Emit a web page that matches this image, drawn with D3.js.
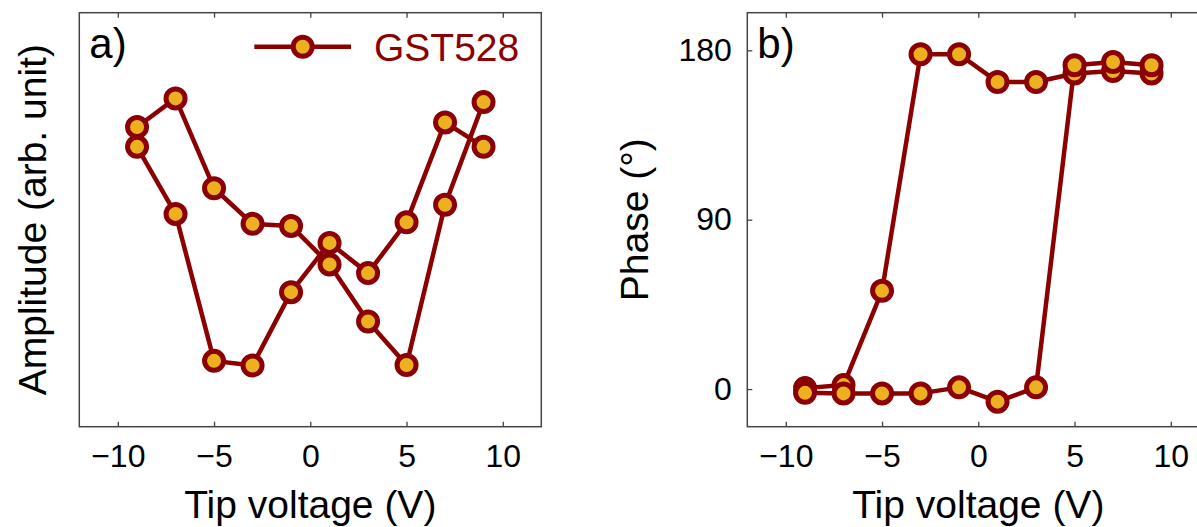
<!DOCTYPE html>
<html>
<head>
<meta charset="utf-8">
<script src="https://cdn.jsdelivr.net/npm/d3@7"></script>
<style>
  body { margin: 0; background: #fff; }
  svg { display: block; font-family: "Liberation Sans", Arial, sans-serif; }
</style>
</head>
<body>
<div id="chart"></div>
<script>
// sweep from +9 V down to -9 V, then back up
var voltageDown = [9, 7, 5, 3, 1, -1, -3, -5, -7, -9];
var voltageUp = [-9, -7, -5, -3, -1, 1, 3, 5, 7, 9];

// amplitude in arbitrary units (0..100 across the axes)
var amplitudeDown = [67.6, 73.5, 49.4, 37.1, 44.4, 32.5, 14.8, 15.9, 51.4, 67.6];
var amplitudeUp = [72.4, 79.3, 57.6, 49.0, 48.5, 39.2, 25.4, 14.9, 53.6, 78.4];

// phase in degrees
var phaseDown = [167.7, 169.0, 167.7, 163.2, 163.2, 177.9, 177.9, 52.2, 2.1, 0.5];
var phaseUp = [-2.0, -2.3, -2.3, -2.3, 0.9, -6.7, 0.9, 172.1, 173.8, 172.1];

var xTicks = [-10, -5, 0, 5, 10];
var phaseTicks = [0, 90, 180];
var seriesName = "GST528";

var WIDTH = 1197, HEIGHT = 527;
var LINE = "#8b0000", FILL = "#edb120", AXIS = "#444";

var svg = d3.select("#chart").append("svg")
    .attr("width", WIDTH)
    .attr("height", HEIGHT);

function panel(left, yDomain, yTickVals, down, up, opts) {
    var w = 462, top = 12.7, bottom = 426.7;
    var x = d3.scaleLinear().domain([-12, 12]).range([left, left + w]);
    var y = d3.scaleLinear().domain(yDomain).range([bottom, top]);
    var g = svg.append("g");

    g.append("g")
        .attr("transform", "translate(0," + bottom + ")")
        .call(d3.axisBottom(x).tickValues(xTicks).tickSize(-5).tickSizeOuter(0).tickPadding(17.5))
        .call(styleAxis)
        .selectAll("text").attr("font-size", 32);

    g.append("g")
        .attr("transform", "translate(0," + top + ")")
        .call(d3.axisTop(x).tickValues(xTicks).tickSize(-5).tickSizeOuter(0).tickFormat(""))
        .call(styleAxis);

    if (yTickVals) {
        g.append("g")
            .attr("transform", "translate(" + left + ",0)")
            .call(d3.axisLeft(y).tickValues(yTickVals).tickSize(-5).tickSizeOuter(0).tickPadding(15.5))
            .call(styleAxis)
            .selectAll("text").attr("font-size", 32);
        g.append("g")
            .attr("transform", "translate(" + (left + w) + ",0)")
            .call(d3.axisRight(y).tickValues(yTickVals).tickSize(-5).tickSizeOuter(0).tickFormat(""))
            .call(styleAxis);
    }

    g.append("rect")
        .attr("x", left).attr("y", top)
        .attr("width", w).attr("height", bottom - top)
        .attr("fill", "none")
        .attr("stroke", AXIS)
        .attr("stroke-width", 1.5);

    var pts = down.v.map(function(v, i) { return [v, down.y[i]]; })
        .concat(up.v.map(function(v, i) { return [v, up.y[i]]; }));

    var line = d3.line()
        .x(function(d) { return x(d[0]); })
        .y(function(d) { return y(d[1]); });

    g.append("path")
        .attr("d", line(pts))
        .attr("fill", "none")
        .attr("stroke", LINE)
        .attr("stroke-width", 4.5)
        .attr("stroke-linejoin", "round");

    g.selectAll("circle.pt")
        .data(pts)
        .enter().append("circle")
        .attr("class", "pt")
        .attr("cx", function(d) { return x(d[0]); })
        .attr("cy", function(d) { return y(d[1]); })
        .attr("r", 9.5)
        .attr("fill", FILL)
        .attr("stroke", LINE)
        .attr("stroke-width", 5);

    g.append("text")
        .attr("x", left + 10)
        .attr("y", 58)
        .attr("font-size", 42)
        .attr("fill", "#000")
        .text(opts.tag);

    g.append("text")
        .attr("x", x(0))
        .attr("y", 518)
        .attr("text-anchor", "middle")
        .attr("font-size", 39)
        .attr("fill", "#000")
        .text("Tip voltage (V)");

    g.append("text")
        .attr("transform", "translate(" + opts.labelX + "," + ((top + bottom) / 2) + ")rotate(-90)")
        .attr("text-anchor", "middle")
        .attr("font-size", 39)
        .attr("fill", "#000")
        .text(opts.ylabel);

    return g;
}

function styleAxis(a) {
    a.select(".domain").remove();
    a.selectAll(".tick line").attr("stroke", AXIS).attr("stroke-width", 1.3);
    a.selectAll(".tick text").attr("fill", "#000").attr("font-family", "Liberation Sans, Arial, sans-serif");
}

var ga = panel(79.3, [0, 100], null,
    {v: voltageDown, y: amplitudeDown}, {v: voltageUp, y: amplitudeUp},
    {tag: "a)", ylabel: "Amplitude (arb. unit)", labelX: 46});

panel(747.3, [-20, 200], phaseTicks,
    {v: voltageDown, y: phaseDown}, {v: voltageUp, y: phaseUp},
    {tag: "b)", ylabel: "Phase (°)", labelX: 648});

// legend in panel a
var leg = ga.append("g").attr("transform", "translate(0,46.7)");
leg.append("line")
    .attr("x1", 254.3).attr("x2", 351)
    .attr("stroke", LINE).attr("stroke-width", 4.5);
leg.append("circle")
    .attr("cx", 302.7).attr("r", 9.5)
    .attr("fill", FILL).attr("stroke", LINE).attr("stroke-width", 5);
leg.append("text")
    .attr("x", 374)
    .attr("y", 14)
    .attr("font-size", 39)
    .attr("fill", LINE)
    .text(seriesName);
</script>
</body>
</html>
